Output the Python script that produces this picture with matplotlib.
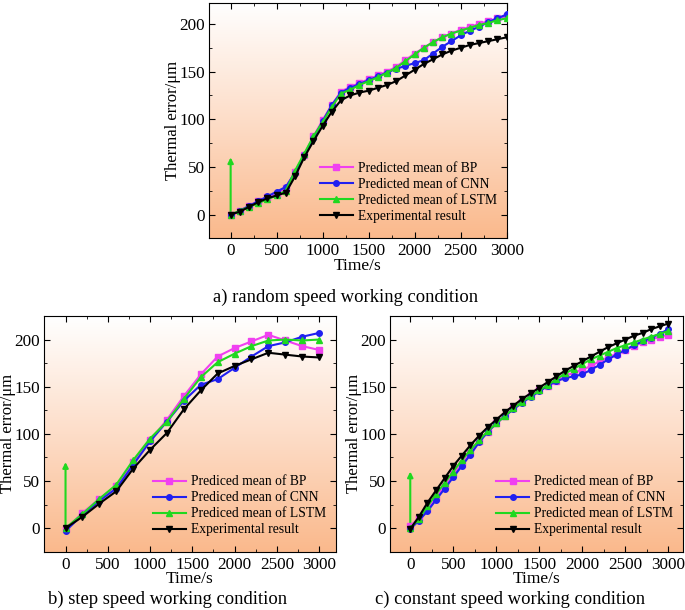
import numpy as np
import matplotlib.pyplot as plt
from matplotlib.ticker import MultipleLocator
from matplotlib.colors import LinearSegmentedColormap

plt.rcParams['font.family'] = ['Liberation Serif', 'DejaVu Serif']
plt.rcParams['mathtext.fontset'] = 'stix'

# a) random speed
t_a = np.arange(0, 3001, 100)
bp_a = [-1, 4, 9, 14, 18, 22, 28, 45, 63, 82, 99, 115, 129, 134, 138, 142, 146, 150, 155, 162,
        169, 175, 181, 186, 190, 194, 197, 200, 203, 206, 208]
cnn_a = [-1, 4, 9, 14, 19, 24, 29, 44, 62, 80, 98, 115, 128, 133, 137, 141, 145, 149, 153, 156,
         159, 162, 169, 176, 182, 188, 193, 197, 202, 206, 210]
lstm_a = [0, 4, 8, 12, 16, 20, 25, 46, 64, 82, 97, 113, 127, 131, 136, 140, 144, 149, 154, 161,
          168, 175, 181, 186, 190, 193, 196, 199, 201, 204, 206]
exp_a = [0, 3, 8, 13, 17, 20, 23, 40, 60, 77, 93, 108, 120, 125, 128, 130, 133, 136, 140, 146,
         152, 158, 163, 168, 172, 175, 178, 180, 182, 184, 186]

# b) step speed
t_b = np.arange(0, 3001, 200)
bp_b = [-1, 16, 31, 45, 70, 93, 115, 140, 163, 182, 191, 198, 205, 199, 193, 189]
cnn_b = [-3, 14, 29, 42, 67, 92, 113, 135, 152, 158, 170, 182, 193, 197, 203, 207]
lstm_b = [0, 15, 31, 46, 72, 95, 113, 137, 160, 176, 185, 193, 199, 200, 199, 200]
exp_b = [0, 12, 26, 39, 63, 83, 101, 126, 146, 164, 172, 179, 186, 184, 182, 181]

# c) constant speed
t_c = np.arange(0, 3001, 100)
bp_c = [2, 11, 20, 32, 45, 57, 68, 80, 92, 102, 111, 119, 127, 134, 140, 146, 151, 156, 161, 165,
        168, 172, 177, 181, 185, 189, 193, 197, 200, 203, 205]
cnn_c = [-1, 8, 18, 30, 42, 54, 66, 78, 91, 102, 111, 119, 126, 133, 139, 145, 151, 156, 159, 161,
         163, 168, 173, 179, 184, 189, 194, 198, 202, 206, 211]
lstm_c = [0, 10, 23, 36, 48, 60, 72, 83, 93, 103, 111, 119, 127, 134, 140, 146, 152, 158, 164, 169,
          174, 179, 183, 187, 191, 194, 197, 200, 203, 206, 209]
exp_c = [-1, 12, 27, 40, 53, 66, 77, 88, 98, 107, 115, 123, 130, 137, 143, 149, 155, 161, 167, 172,
         177, 182, 187, 192, 196, 200, 204, 207, 211, 214, 217]

arrow_top = [60, 70, 60]
names_pred = ['Predicted mean of BP', 'Predicted mean of CNN', 'Predicted mean of LSTM', 'Experimental result']
names_b = ['Prediced mean of BP', 'Prediced mean of CNN', 'Prediced mean of LSTM', 'Experimental result']
captions = ['a) random speed working condition', 'b) step speed working condition',
            'c) constant speed working condition']

colores = ['#f040f0', '#2020f0', '#20d820', 'black']
marcas = ['s', 'o', '^', 'v']

cmap_bg = LinearSegmentedColormap.from_list('bg', ['#fab98c', '#fdddc8', '#ffffff'])

fig = plt.figure(figsize=(6.85, 6.1), dpi=100)
ejes = [fig.add_axes([0.305, 0.6093, 0.4346, 0.3857]),
        fig.add_axes([0.0642, 0.0956, 0.4263, 0.3864]),
        fig.add_axes([0.5693, 0.0956, 0.4277, 0.3864])]
datos = [(t_a, [bp_a, cnn_a, lstm_a, exp_a], names_pred, (-236, 3000), (-25, 222)),
         (t_b, [bp_b, cnn_b, lstm_b, exp_b], names_b, (-255, 3200), (-25, 225)),
         (t_c, [bp_c, cnn_c, lstm_c, exp_c], names_pred, (-236, 3170), (-25, 225))]

for i, ax in enumerate(ejes):
    t, series, nombres, xl, yl = datos[i]
    # fondo degradado
    grad = np.linspace(0, 1, 256).reshape(-1, 1)
    ax.imshow(grad, extent=[0, 1, 0, 1], transform=ax.transAxes, origin='lower',
              cmap=cmap_bg, aspect='auto', zorder=0)
    for j in range(4):
        ax.plot(t, series[j], color=colores[j], marker=marcas[j], markersize=4,
                lw=1.5, label=nombres[j], zorder=2 + j)
    ax.annotate('', xy=(0, arrow_top[i]), xytext=(0, 0),
                arrowprops=dict(arrowstyle='-|>', color='#20d820', lw=1.5,
                                mutation_scale=8, shrinkA=0, shrinkB=0), zorder=1)
    ax.set_xlim(xl)
    ax.set_ylim(yl)
    ax.xaxis.set_major_locator(MultipleLocator(500))
    ax.xaxis.set_minor_locator(MultipleLocator(250))
    ax.yaxis.set_major_locator(MultipleLocator(50))
    ax.yaxis.set_minor_locator(MultipleLocator(25))
    ax.tick_params(which='both', direction='in', top=True, right=True, labelsize=12.3)
    ax.tick_params(axis='y', pad=3)
    ax.tick_params(which='major', length=4)
    ax.tick_params(which='minor', length=2.5)
    ax.set_xlabel('Time/s', fontsize=12.5, labelpad=-1)
    ax.set_ylabel('Thermal error/μm', fontsize=12, labelpad=-1)
    ax.legend(loc='lower right', bbox_to_anchor=(0.995, 0.03), frameon=False, fontsize=9.8,
              handlelength=2.4, handletextpad=0.4, labelspacing=0.22, borderaxespad=0.2)

fig.text(0.504, 0.512, captions[0], ha='center', va='center', fontsize=13.4)
fig.text(0.245, 0.017, captions[1], ha='center', va='center', fontsize=13.4)
fig.text(0.745, 0.017, captions[2], ha='center', va='center', fontsize=13.4)

plt.savefig('out.png', dpi=100)
